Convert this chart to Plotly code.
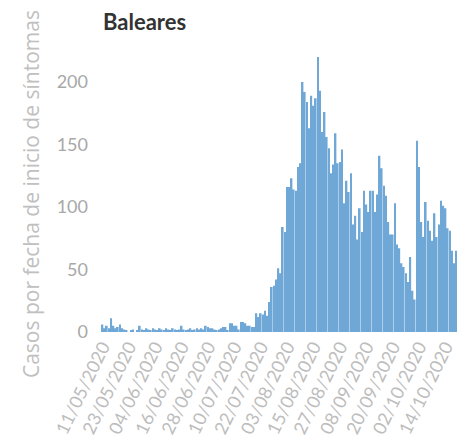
import pandas as pd
import plotly.graph_objects as go

start_date = "2020-05-11"
casos = [
    6, 3, 5, 3, 11, 5, 3, 4, 6, 3, 2, 1, 0, 1, 2, 0, 1, 5, 2, 1,
    3, 2, 1, 3, 2, 1, 3, 2, 1, 3, 2, 1, 3, 2, 1, 2, 5, 2, 1, 2,
    3, 1, 2, 3, 2, 3, 2, 5, 4, 3, 3, 2, 1, 2, 3, 4,
    4, 1, 7, 7, 5, 5, 2, 8, 8, 7, 5, 5, 4, 4, 15, 12, 15, 14, 17, 13,
    24, 36, 37, 42, 51, 47, 84, 80, 116, 116, 123, 114, 113,
    132, 135, 200, 192, 184, 163, 189, 181, 187, 220, 193, 160, 176, 156,
    147, 127, 134, 159, 135, 136, 146,
    103, 121, 112, 127, 86, 93, 74, 99, 80, 113, 102, 96, 113, 113, 96,
    110, 141, 131, 117, 109, 88, 78, 78, 103,
    70, 67, 55, 52, 47, 40, 60, 33, 26, 153, 132, 88, 76, 104, 89, 81,
    73, 95, 76, 86, 105, 101, 99, 83, 81, 65, 55, 65, 15, 9,
]
fechas = pd.date_range(start_date, periods=len(casos), freq="D")
y_ticks = [0, 50, 100, 150, 200]
titulo = "Baleares"
titulo_y = "Casos por fecha de inicio de síntomas"

fig = go.Figure(
    go.Bar(x=fechas, y=casos, marker=dict(color="#6fa8d6", line=dict(width=0)))
)

fig.update_layout(
    width=465,
    height=438,
    margin=dict(l=90, r=8, t=42, b=114),
    paper_bgcolor="white",
    plot_bgcolor="white",
    bargap=0.22,
    showlegend=False,
    xaxis=dict(
        type="date",
        range=["2020-05-09 00:00", "2020-10-22 21:00"],
        tick0=start_date,
        dtick=12 * 24 * 3600 * 1000,
        tickformat="%d/%m/%Y",
        tickangle=-64,
        tickfont=dict(family="Lato, Open Sans", size=18, color="#bdbdbd"),
        showgrid=False,
        zeroline=False,
        showline=False,
        ticks="",
    ),
    yaxis=dict(
        range=[0, 225.6],
        tickvals=y_ticks,
        tickfont=dict(family="Liberation Sans Narrow, Lato", size=18, color="#a8a8a8"),
        showgrid=False,
        zeroline=False,
        showline=False,
        ticks="",
        ticklabelstandoff=9,
    ),
    annotations=[
        dict(
            text=titulo,
            xref="paper", yref="paper",
            x=0.011, y=1.0993,
            xanchor="left", yanchor="middle",
            borderpad=0,
            showarrow=False,
            font=dict(family="Liberation Sans Narrow, Lato", size=22, color="#333333", weight="bold"),
        ),
        dict(
            text=titulo_y,
            xref="paper", yref="paper",
            x=-0.1826, y=0.489,
            xanchor="center", yanchor="middle",
            textangle=-90,
            showarrow=False,
            font=dict(family="Open Sans", size=21, color="#c0c0c0"),
        ),
    ],
)

fig.write_html("out.html")
